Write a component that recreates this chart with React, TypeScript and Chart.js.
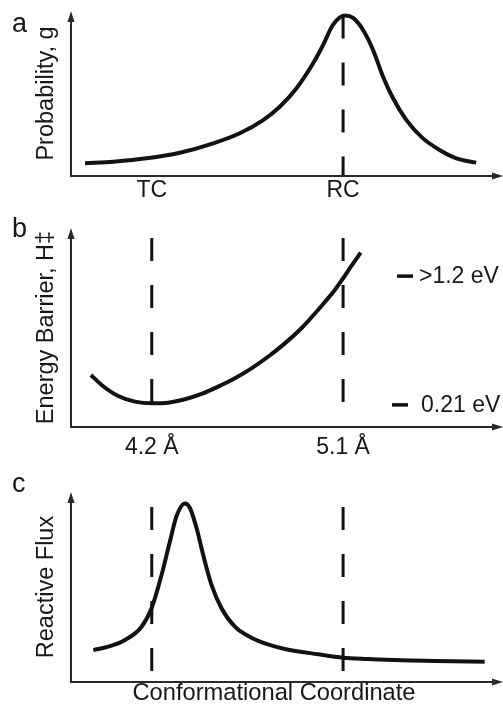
import React, { useEffect, useRef } from 'react';
import { Chart, registerables } from 'chart.js';

Chart.register(...registerables);

// Shared conformational-coordinate axis (Å)
const xMin = 3.82;
const xMax = 5.73;

// Panel a: probability g
const aX = [3.886, 4.019, 4.176, 4.332, 4.489, 4.614, 4.724, 4.802, 4.881, 4.959, 5.006, 5.053, 5.11, 5.147, 5.194, 5.241, 5.288, 5.335, 5.398, 5.476, 5.554, 5.633, 5.726];
const aY = [0.077, 0.087, 0.107, 0.141, 0.198, 0.259, 0.339, 0.42, 0.532, 0.683, 0.794, 0.917, 0.972, 0.958, 0.885, 0.764, 0.602, 0.471, 0.339, 0.228, 0.158, 0.107, 0.081];
const aTickValues = [4.2, 5.1];
const aTickLabels = ['TC', 'RC'];
const aGuideX = [5.1];
const aGuideSpan = [0.972, 0];

// Panel b: energy barrier H‡ (eV)
const bX = [3.914, 3.964, 4.042, 4.121, 4.199, 4.277, 4.356, 4.434, 4.512, 4.591, 4.669, 4.747, 4.826, 4.904, 4.982, 5.061, 5.1, 5.139, 5.183];
const bY = [0.44, 0.363, 0.278, 0.235, 0.222, 0.227, 0.253, 0.294, 0.35, 0.414, 0.491, 0.58, 0.683, 0.799, 0.94, 1.093, 1.183, 1.278, 1.38];
const bTickValues = [4.2, 5.1];
const bTickLabels = ['4.2 Å', '5.1 Å'];
const bGuideX = [4.2, 5.1];
const bGuideSpan = [1.493, 0.217];
const bMarkValues = [1.2, 0.21];
const bMarkLabels = ['>1.2 eV', '0.21 eV'];

// Panel c: reactive flux
const cX = [3.925, 3.995, 4.074, 4.152, 4.199, 4.246, 4.285, 4.317, 4.356, 4.379, 4.411, 4.442, 4.481, 4.528, 4.591, 4.669, 4.747, 4.826, 4.982, 5.1, 5.217, 5.374, 5.531, 5.766];
const cY = [0.168, 0.186, 0.221, 0.291, 0.388, 0.563, 0.738, 0.875, 0.94, 0.917, 0.809, 0.668, 0.511, 0.388, 0.291, 0.233, 0.198, 0.174, 0.146, 0.128, 0.121, 0.114, 0.111, 0.107];
const cGuideX = [4.2, 5.1];
const cGuideSpan = [0.921, 0.053];

const FONT = '"Liberation Sans", Arial, Helvetica, sans-serif';
const INK = '#121212';
const TEXT = '#181818';
const AXIS = '#2a2a2a';

type PanelOpts = {
  curveX: number[];
  curveY: number[];
  guideX: number[];
  guideSpan: number[];
  yMin: number;
  yMax: number;
  yTitle: string;
  tickValues?: number[];
  tickLabels?: string[];
  tickPadding?: number;
  xTitle?: string;
  padTop: number;
  xScaleHeight: number;
  letter: string;
  letterY: number;
  markValues?: number[];
  markLabels?: string[];
};

// layout of the right-hand energy annotations: [dashFrom, dashTo, textX]
const markLayout = [
  [397, 413, 419],
  [392, 408, 421],
];

function buildConfig(p: PanelOpts): any {
  const datasets: any[] = [
    {
      data: p.curveX.map((x, i) => ({ x, y: p.curveY[i] })),
      borderColor: INK,
      borderWidth: 4,
      pointRadius: 0,
      cubicInterpolationMode: 'monotone',
      clip: false,
      order: 0,
    },
    ...p.guideX.map((gx) => ({
      data: [
        { x: gx, y: p.guideSpan[0] },
        { x: gx, y: p.guideSpan[1] },
      ],
      borderColor: INK,
      borderWidth: 3,
      borderDash: [23, 24],
      pointRadius: 0,
      clip: false,
      order: 1,
    })),
  ];

  const decor = {
    id: 'decor',
    afterDraw(chart: any) {
      const { ctx, chartArea } = chart;
      const { left, top, bottom } = chartArea;
      const right = chart.width;
      ctx.save();
      // axes with arrow heads
      ctx.strokeStyle = AXIS;
      ctx.fillStyle = AXIS;
      ctx.lineWidth = 2;
      ctx.beginPath();
      ctx.moveTo(left, top + 8);
      ctx.lineTo(left, bottom);
      ctx.lineTo(right - 8, bottom);
      ctx.stroke();
      ctx.beginPath();
      ctx.moveTo(left, top);
      ctx.lineTo(left - 3.5, top + 11);
      ctx.lineTo(left + 3.5, top + 11);
      ctx.closePath();
      ctx.fill();
      ctx.beginPath();
      ctx.moveTo(right, bottom);
      ctx.lineTo(right - 11, bottom - 3.5);
      ctx.lineTo(right - 11, bottom + 3.5);
      ctx.closePath();
      ctx.fill();
      // panel letter
      ctx.fillStyle = TEXT;
      ctx.font = `27px ${FONT}`;
      ctx.textAlign = 'left';
      ctx.textBaseline = 'alphabetic';
      ctx.fillText(p.letter, 12, p.letterY);
      // energy annotations
      if (p.markValues && p.markLabels) {
        const ys = chart.scales.y;
        ctx.font = `23px ${FONT}`;
        ctx.textBaseline = 'middle';
        p.markValues.forEach((v, i) => {
          const y = ys.getPixelForValue(v);
          const [d0, d1, tx] = markLayout[i];
          ctx.strokeStyle = INK;
          ctx.lineWidth = 3.5;
          ctx.beginPath();
          ctx.moveTo(d0, y);
          ctx.lineTo(d1, y);
          ctx.stroke();
          ctx.fillText(p.markLabels![i], tx, y + 1);
        });
      }
      ctx.restore();
    },
  };

  return {
    type: 'line',
    data: { datasets },
    options: {
      animation: false,
      responsive: false,
      events: [],
      layout: { padding: { top: p.padTop, right: 26, left: 0, bottom: 0 } },
      plugins: { legend: { display: false }, tooltip: { enabled: false } },
      scales: {
        x: {
          type: 'linear',
          min: xMin,
          max: xMax,
          grid: { display: false, drawTicks: false },
          border: { display: false },
          afterBuildTicks: (s: any) => {
            s.ticks = (p.tickValues || []).map((v) => ({ value: v }));
          },
          ticks: {
            display: !!p.tickValues,
            autoSkip: false,
            maxRotation: 0,
            padding: p.tickPadding ?? 0,
            font: { family: FONT, size: 23 },
            color: TEXT,
            callback: (_v: any, i: number) => (p.tickLabels ? p.tickLabels[i] : ''),
          },
          title: {
            display: !!p.xTitle,
            text: p.xTitle || '',
            font: { family: FONT, size: 23.7 },
            color: TEXT,
            padding: { top: 0, bottom: -2 },
          },
          afterFit: (s: any) => {
            s.height = p.xScaleHeight;
          },
        },
        y: {
          type: 'linear',
          min: p.yMin,
          max: p.yMax,
          grid: { display: false, drawTicks: false },
          border: { display: false },
          ticks: { display: false },
          title: {
            display: true,
            text: p.yTitle,
            font: { family: FONT, size: 23.5 },
            color: TEXT,
            padding: { top: 32, bottom: 0 },
          },
          afterFit: (s: any) => {
            s.width = 71;
          },
        },
      },
    },
    plugins: [decor],
  };
}

function Panel({ top, height, opts }: { top: number; height: number; opts: PanelOpts }) {
  const ref = useRef<HTMLCanvasElement>(null);
  useEffect(() => {
    const chart = new Chart(ref.current as HTMLCanvasElement, buildConfig(opts));
    return () => chart.destroy();
  }, []);
  return (
    <canvas
      ref={ref}
      width={503}
      height={height}
      style={{ position: 'absolute', left: 0, top, width: 503, height, display: 'block' }}
    />
  );
}

export default function App() {
  return (
    <div
      style={{
        position: 'fixed',
        left: 0,
        top: 0,
        width: 503,
        height: 706,
        overflow: 'hidden',
        background: '#ffffff',
      }}
    >
      <Panel
        top={0}
        height={205}
        opts={{
          curveX: aX,
          curveY: aY,
          guideX: aGuideX,
          guideSpan: aGuideSpan,
          yMin: 0,
          yMax: 1,
          yTitle: 'Probability, g',
          tickValues: aTickValues,
          tickLabels: aTickLabels,
          tickPadding: 1.2,
          padTop: 11,
          xScaleHeight: 29,
          letter: 'a',
          letterY: 32,
        }}
      />
      <Panel
        top={205}
        height={260}
        opts={{
          curveX: bX,
          curveY: bY,
          guideX: bGuideX,
          guideSpan: bGuideSpan,
          yMin: 0.04,
          yMax: 1.57,
          yTitle: 'Energy Barrier, H‡',
          tickValues: bTickValues,
          tickLabels: bTickLabels,
          tickPadding: 7.2,
          padTop: 23,
          xScaleHeight: 38,
          letter: 'b',
          letterY: 32,
          markValues: bMarkValues,
          markLabels: bMarkLabels,
        }}
      />
      <Panel
        top={465}
        height={241}
        opts={{
          curveX: cX,
          curveY: cY,
          guideX: cGuideX,
          guideSpan: cGuideSpan,
          yMin: 0,
          yMax: 1,
          yTitle: 'Reactive Flux',
          xTitle: 'Conformational Coordinate',
          padTop: 27,
          xScaleHeight: 24,
          letter: 'c',
          letterY: 27,
        }}
      />
    </div>
  );
}
